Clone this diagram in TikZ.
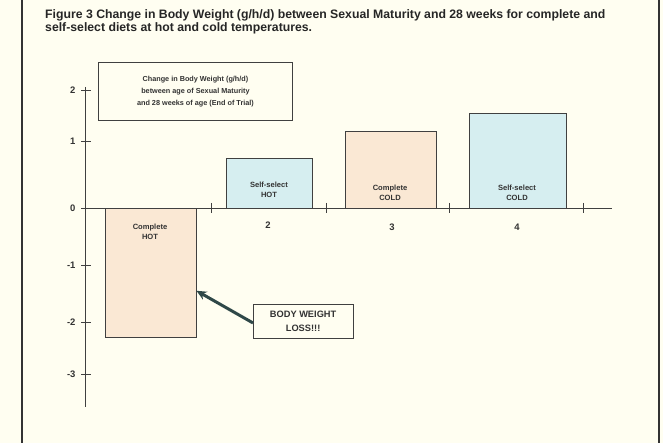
\documentclass[tikz,border=0pt]{standalone}
\usepackage{fontspec}
\setmainfont{Liberation Sans}
\usetikzlibrary{arrows.meta,calc}
\definecolor{paper}{RGB}{255,254,241}
\definecolor{peach}{RGB}{250,232,212}
\definecolor{iceblue}{RGB}{214,238,240}
\definecolor{slate}{RGB}{47,72,72}
\tikzset{
  bar/.style={draw=black!75,line width=0.8pt,anchor=north west,inner sep=0pt},
  barlabel/.style={font=\fontsize{7.6}{9.5}\selectfont\bfseries,align=center,text=black!80},
  ticklabel/.style={font=\fontsize{9.5}{10}\selectfont\bfseries,text=black!80},
  textbox/.style={draw=black!75,line width=0.6pt,align=center,text=black!80}
}
\begin{document}
\begin{tikzpicture}[x=1bp,y=-1bp]
        \useasboundingbox[fill=paper](0,0)rectangle(663,443);
        \draw[black!80,line width=1.3pt](22,0)--(22,443);
        \draw[black!80,line width=1.3pt](659,0)--(659,443);
        \node[anchor=north west,align=left,font=\fontsize{12.3}{13}\selectfont\bfseries,text=black!85,inner sep=0pt](title)at(45,9)
          {Figure 3 Change in Body Weight (g/h/d) between Sexual Maturity and 28 weeks for complete and\\
           self-select diets at hot and cold temperatures.};
        \node[bar,fill=peach,minimum width=91,minimum height=129](b1)at(105,208){};
        \node[bar,fill=iceblue,minimum width=86,minimum height=50](b2)at(226,158){};
        \node[bar,fill=peach,minimum width=91,minimum height=77](b3)at(345,131){};
        \node[bar,fill=iceblue,minimum width=97,minimum height=95](b4)at(469,113){};
        \draw[black!75,line width=0.8pt](85,208)--(612,208);
        \draw[black!75,line width=0.8pt](85,87)--(85,407);
        \foreach \y/\v in {90/2,141/1,208/0,265/-1,322/-2,374/-3}{
          \draw[black!75,line width=0.6pt](81,\y)--(91,\y);
          \node[ticklabel,anchor=east]at(79,\y){\v};
        }
        \foreach \x in {211,326,449,583}{
          \draw[black!75,line width=0.6pt](\x,203)--(\x,213);
        }
        \node[barlabel](l1)at(150,232){Complete\\HOT};
        \node[barlabel](l2)at(269,190){Self-select\\HOT};
        \node[barlabel](l3)at(390,193){Complete\\COLD};
        \node[barlabel](l4)at(517,193){Self-select\\COLD};
        \node[ticklabel](n2)at(268,225){2};
        \node[ticklabel](n3)at(392,227){3};
        \node[ticklabel](n4)at(517,227){4};
        \node[textbox,font=\fontsize{7.3}{12}\selectfont\bfseries,minimum width=195,minimum height=58,anchor=north west](legend)at(98,62)
          {Change in Body Weight (g/h/d)\\between age of Sexual Maturity\\and 28 weeks of age (End of Trial)};
        \node[textbox,font=\fontsize{9.3}{14}\selectfont\bfseries,minimum width=100,minimum height=34,inner sep=1pt,anchor=north west](loss)at(253,304)
          {BODY WEIGHT\\LOSS!!!};
        \coordinate(tip)at($(b1.north east)!0.64!(b1.south east)$);
        \draw[slate,line width=3pt,-{Stealth[length=10pt,width=9pt]}]($(loss.north west)!0.55!(loss.south west)$)--(tip);
    \end{tikzpicture}
\end{document}
